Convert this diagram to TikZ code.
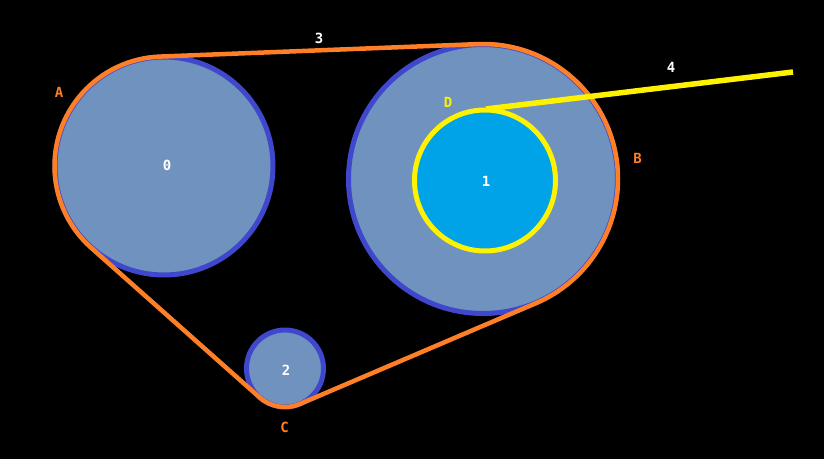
\documentclass[tikz,border=0pt]{standalone}
\usepackage{fontspec}
\newfontfamily\lblfont{DejaVu Sans Mono}
\usetikzlibrary{calc}
\definecolor{wheelfill}{HTML}{7092BE}
\definecolor{wheelrim}{HTML}{3F48CC}
\definecolor{beltc}{HTML}{FF7F27}
\definecolor{hubfill}{HTML}{00A2E8}
\definecolor{hubrim}{HTML}{FFF200}
\begin{document}
\begin{tikzpicture}[x=1pt,y=1pt,
  wheel/.style={fill=wheelfill, draw=wheelrim, line width=5pt},
  hub/.style={fill=hubfill, draw=hubrim, line width=5pt},
  beltline/.style={draw=beltc, line width=4.5pt, line join=round},
  armline/.style={draw=hubrim, line width=5.5pt},
  lbl/.style={font=\lblfont\bfseries\fontsize{14}{16}\selectfont, inner sep=0pt, text=white}]
\fill[black] (0,0) rectangle (824,459);
\useasboundingbox (0,0) rectangle (824,459);
\coordinate (C0) at (164,293);
\coordinate (C1) at (483,280);
\coordinate (C2) at (285,90.5);
\coordinate (H) at (485,278.5);
\coordinate (D) at (486,350);
\coordinate (E) at (793,387);
% wheels
\draw[wheel] (C0) circle[radius=109];
\draw[wheel] (C1) circle[radius=134.5];
\draw[wheel] (C2) circle[radius=38.5];
\draw[hub] (H) circle[radius=70.5];
% belt
\draw[beltline] ($(C0)+(92.247:109.5)$) -- ($(C1)+(92.247:135)$)
  arc[start angle=92.247, end angle=-66.873, radius=135]
  -- ($(C2)+(-66.873:38.5)$)
  arc[start angle=-66.873, end angle=-131.625, radius=38.5]
  -- ($(C0)+(-131.625:109.5)$)
  arc[start angle=-131.625, end angle=-267.753, radius=109.5] -- cycle;
% arm
\draw[armline] (D) -- (E);
% labels
\node[lbl] (l0) at (167,294) {0};
\node[lbl] (l1) at (486,278) {1};
\node[lbl] (l2) at (286,89) {2};
\node[lbl] (l3) at (319,421) {3};
\node[lbl] (l4) at (671,391.5) {4};
\node[lbl, text=beltc] (lA) at (59,367) {A};
\node[lbl, text=beltc] (lB) at (637.5,301) {B};
\node[lbl, text=beltc] (lC) at (284.5,32) {C};
\node[lbl, text=hubrim] (lD) at (448,356.7) {D};
\end{tikzpicture}
\end{document}
